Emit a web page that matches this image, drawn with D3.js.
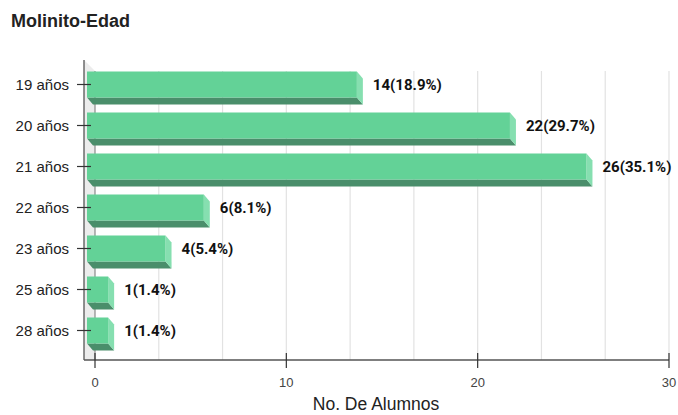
<!DOCTYPE html>
<html>
<head>
<meta charset="utf-8">
<script src="https://cdn.jsdelivr.net/npm/d3@7"></script>
<style>
  html, body { margin: 0; padding: 0; background: #fff; }
  svg { display: block; }
</style>
</head>
<body>
<svg id="chart" width="678" height="415"></svg>
<script>
// Age distribution of students (Molinito)
const categories = ["19 años", "20 años", "21 años", "22 años", "23 años", "25 años", "28 años"];
const counts = [14, 22, 26, 6, 4, 1, 1];
const percents = ["18.9%", "29.7%", "35.1%", "8.1%", "5.4%", "1.4%", "1.4%"];
const xTicks = [0, 10, 20, 30];
const chartTitle = "Molinito-Edad";
const xTitle = "No. De Alumnos";

const svg = d3.select("#chart");

// Plot frame: front edges and back wall (pseudo 3-D depth)
const frontLeft = 84, floorY = 360, topY = 60, backTop = 71;
const x = d3.scaleLinear().domain([0, 30]).range([95, 669]);
const y = d3.scaleBand().domain(categories).range([64, 351]);

const depthX = 6, depthY = 7, barH = 26;

const colFront = "#63d297", colBottom = "#4a8e6b", colSide = "#86dfb0";

// Title
svg.append("text")
  .attr("x", 11).attr("y", 27)
  .attr("font-family", "Liberation Sans, Arial, sans-serif")
  .attr("font-weight", "bold")
  .attr("font-size", 18)
  .attr("fill", "#222")
  .text(chartTitle);

// Left wall
svg.append("path")
  .attr("d", `M${frontLeft},${topY}L${x(0)},${backTop}L${x(0)},${floorY}L${frontLeft},${floorY}Z`)
  .attr("fill", "#ececec");

// Gridlines on the back wall (every 10/3 units)
const gridVals = d3.range(0, 10).map(i => i * 10 / 3);
svg.append("g").selectAll("line")
  .data(gridVals)
  .join("line")
  .attr("x1", d => x(d)).attr("x2", d => x(d))
  .attr("y1", backTop).attr("y2", floorY)
  .attr("stroke", (d, i) => i === 0 ? "#8a8a8a" : "#e2e2e2")
  .attr("stroke-width", 1.2);

// Bars: front face, bottom face and right side
const bars = svg.append("g").selectAll("g")
  .data(categories.map((c, i) => ({ c, v: counts[i], p: percents[i] })))
  .join("g");

bars.each(function(d) {
  const g = d3.select(this);
  const top = y(d.c) + y.bandwidth() / 2 - barH / 2;
  const bot = top + barH;
  const left = x(0) - 8;
  const backRight = x(d.v);
  const frontRight = backRight - depthX;

  g.append("path")
    .attr("d", `M${left},${bot}L${frontRight},${bot}L${backRight},${bot + depthY}L${left + depthX},${bot + depthY}Z`)
    .attr("fill", colBottom);
  g.append("path")
    .attr("d", `M${frontRight},${top}L${backRight},${top + depthY}L${backRight},${bot + depthY}L${frontRight},${bot}Z`)
    .attr("fill", colSide);
  g.append("rect")
    .attr("x", left).attr("y", top)
    .attr("width", frontRight - left).attr("height", barH)
    .attr("fill", colFront);

  g.append("text")
    .attr("x", backRight + 10)
    .attr("y", y(d.c) + y.bandwidth() / 2)
    .attr("dy", "0.36em")
    .attr("font-family", "Roboto, sans-serif")
    .attr("font-weight", "bold")
    .attr("font-size", 15)
    .attr("fill", "#111")
    .text(`${d.v}(${d.p})`);
});

// Axis lines
svg.append("line")
  .attr("x1", frontLeft).attr("x2", frontLeft)
  .attr("y1", topY).attr("y2", floorY)
  .attr("stroke", "#555").attr("stroke-width", 1.3);
svg.append("line")
  .attr("x1", frontLeft).attr("x2", x(30))
  .attr("y1", floorY).attr("y2", floorY)
  .attr("stroke", "#555").attr("stroke-width", 1.3);

// Category axis ticks and labels
const yAxis = svg.append("g");
yAxis.selectAll("line")
  .data(categories)
  .join("line")
  .attr("x1", 77).attr("x2", 91)
  .attr("y1", d => y(d) + y.bandwidth() / 2)
  .attr("y2", d => y(d) + y.bandwidth() / 2)
  .attr("stroke", "#333").attr("stroke-width", 1.2);
yAxis.selectAll("text")
  .data(categories)
  .join("text")
  .attr("x", 69)
  .attr("y", d => y(d) + y.bandwidth() / 2)
  .attr("dy", "0.36em")
  .attr("text-anchor", "end")
  .attr("font-family", "Liberation Sans, Arial, sans-serif")
  .attr("font-size", 15)
  .attr("fill", "#222")
  .text(d => d);

// Value axis ticks and labels
const xAxis = svg.append("g");
xAxis.selectAll("line")
  .data(xTicks)
  .join("line")
  .attr("x1", d => x(d)).attr("x2", d => x(d))
  .attr("y1", 353).attr("y2", 368)
  .attr("stroke", "#333").attr("stroke-width", 1.2);
xAxis.selectAll("text")
  .data(xTicks)
  .join("text")
  .attr("x", d => x(d))
  .attr("y", 382)
  .attr("dy", "0.36em")
  .attr("text-anchor", "middle")
  .attr("font-family", "Liberation Sans, Arial, sans-serif")
  .attr("font-size", 13)
  .attr("fill", "#444")
  .text(d => d);

// Axis title
svg.append("text")
  .attr("x", 376).attr("y", 410)
  .attr("text-anchor", "middle")
  .attr("font-family", "Liberation Sans, Arial, sans-serif")
  .attr("font-size", 17.5)
  .attr("fill", "#222")
  .text(xTitle);
</script>
</body>
</html>
